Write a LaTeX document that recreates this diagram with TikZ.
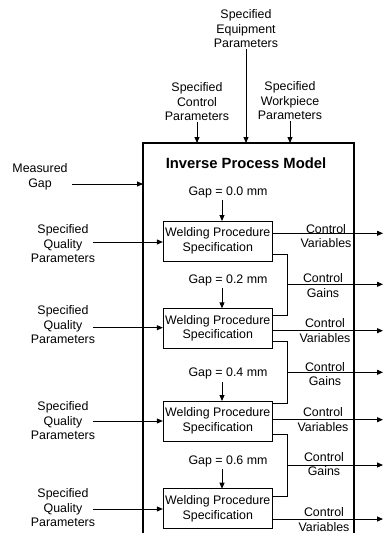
\documentclass[tikz,border=0pt]{standalone}
\usepackage{fontspec}
\setmainfont{Liberation Sans}
\usetikzlibrary{arrows.meta}
\begin{document}
\begin{tikzpicture}[x=1pt,y=-1pt,
  every node/.style={font=\fontsize{12.4}{14.5}\selectfont, inner sep=1pt, align=center},
  lbl/.style={},
  wps/.style={draw, line width=0.9pt, minimum width=109pt, minimum height=40pt, inner sep=1pt},
  conn/.style={line width=0.9pt},
  arr/.style={line width=0.9pt, -{Triangle[length=6pt,width=5pt]}},
  outer/.style={line width=2pt}]
\useasboundingbox (0,0) rectangle (383,533);
% outer box corners
\coordinate (bl) at (143,540);
\coordinate (tl) at (143,143);
\coordinate (tr) at (354,143);
\coordinate (br) at (354,540);
\draw[outer] (bl) -- (tl) -- (tr) -- (br);
% top inputs
\node[lbl] (eqp) at (246,29) {Specified\\Equipment\\Parameters};
\node[lbl] (ctl) at (197,102) {Specified\\Control\\Parameters};
\node[lbl] (wkp) at (290,101) {Specified\\Workpiece\\Parameters};
\draw[arr] (eqp.south) -- (eqp.south |- tl);
\draw[arr] (ctl.south) -- (ctl.south |- tl);
\draw[arr] (wkp.south) -- (wkp.south |- tl);
% title
\node (title) at (246,163) {\fontsize{14.8}{17}\selectfont\bfseries Inverse Process Model};
% measured gap
\node[lbl] (mg) at (40,177) {Measured\\Gap};
\coordinate (mgs) at (72,184);
\draw[arr] (mgs) -- (mgs -| tl);
% welding procedure boxes
\node[wps] (w1) at (217.8,241) {Welding Procedure\\Specification};
\node[wps] (w2) at (217.8,328.3) {Welding Procedure\\Specification};
\node[wps] (w3) at (217.8,421) {Welding Procedure\\Specification};
\node[wps] (w4) at (217.8,508.7) {Welding Procedure\\Specification};
% gap labels
\node[lbl] (g0) at (228,192) {Gap = 0.0 mm};
\node[lbl] (g2) at (228,280) {Gap = 0.2 mm};
\node[lbl] (g4) at (228,373.7) {Gap = 0.4 mm};
\node[lbl] (g6) at (228,461.3) {Gap = 0.6 mm};
\draw[arr] (222,200) -- (222,221);
\draw[arr] (222,288) -- (222,308.3);
\draw[arr] (222,381.5) -- (222,401);
\draw[arr] (222,469) -- (222,488.7);
% quality inputs
\node[lbl] (q1) at (63,244) {Specified\\Quality\\Parameters};
\node[lbl] (q2) at (63,325) {Specified\\Quality\\Parameters};
\node[lbl] (q3) at (63,421) {Specified\\Quality\\Parameters};
\node[lbl] (q4) at (63,507.7) {Specified\\Quality\\Parameters};
\coordinate (q1s) at (93,242);
\coordinate (q2s) at (93,327.7);
\coordinate (q3s) at (93,421);
\coordinate (q4s) at (93,509);
\draw[arr] (q1s) -- (q1s -| w1.west);
\draw[arr] (q2s) -- (q2s -| w2.west);
\draw[arr] (q3s) -- (q3s -| w3.west);
\draw[arr] (q4s) -- (q4s -| w4.west);
% control variables outputs
\coordinate (e1) at (383,233.3);
\coordinate (e2) at (383,330.7);
\coordinate (e3) at (383,419.7);
\coordinate (e4) at (383,519);
\draw[arr] (e1 -| w1.east) -- (e1);
\draw[arr] (e2 -| w2.east) -- (e2);
\draw[arr] (e3 -| w3.east) -- (e3);
\draw[arr] (e4 -| w4.east) -- (e4);
\node[lbl] (cv1) at (326,236) {Control\\Variables};
\node[lbl] (cv2) at (325,330.8) {Control\\Variables};
\node[lbl] (cv3) at (323,419.5) {Control\\Variables};
\node[lbl] (cv4) at (324,519.6) {Control\\Variables};
% control gains brackets
\coordinate (b1) at (287.3,254);
\coordinate (b1e) at (287.3,315.7);
\coordinate (b2) at (287.3,341.7);
\coordinate (b2e) at (287.3,403.7);
\coordinate (b3) at (287.3,434.7);
\coordinate (b3e) at (287.3,496.7);
\draw[conn] (b1 -| w1.east) -- (b1) -- (b1e) -- (b1e -| w2.east);
\draw[conn] (b2 -| w2.east) -- (b2) -- (b2e) -- (b2e -| w3.east);
\draw[conn] (b3 -| w3.east) -- (b3) -- (b3e) -- (b3e -| w4.east);
\coordinate (k1) at (383,284.3);
\coordinate (k2) at (383,372.3);
\coordinate (k3) at (383,465);
\draw[arr] (k1 -| b1) -- (k1);
\draw[arr] (k2 -| b2) -- (k2);
\draw[arr] (k3 -| b3) -- (k3);
\node[lbl] (cg1) at (323,285.5) {Control\\Gains};
\node[lbl] (cg2) at (325,374.2) {Control\\Gains};
\node[lbl] (cg3) at (324,464.2) {Control\\Gains};
\end{tikzpicture}
\end{document}
